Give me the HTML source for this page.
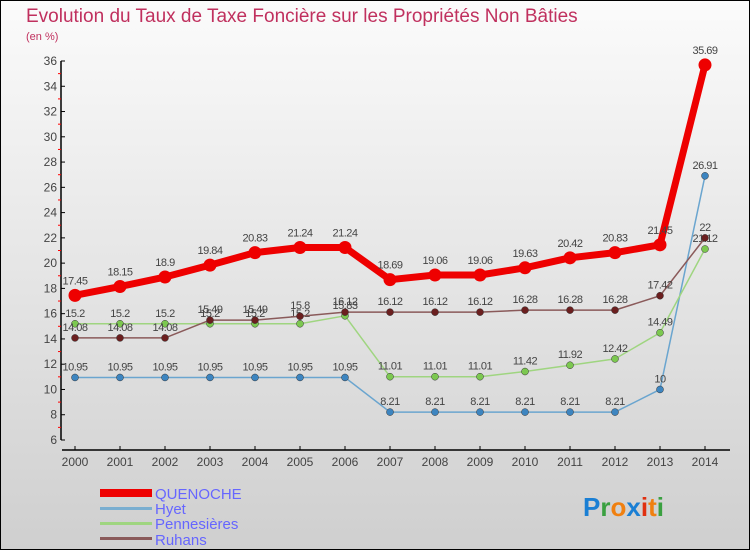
<!DOCTYPE html>
<html><head><meta charset="utf-8"><style>
body{margin:0}
svg text{font-family:"Liberation Sans",sans-serif}
</style></head><body>
<svg id="c" width="750" height="550" xmlns="http://www.w3.org/2000/svg">
<defs><linearGradient id="bg" x1="0" y1="0" x2="0" y2="1"><stop offset="0" stop-color="#fbfbfb"/><stop offset="1" stop-color="#cfcfcf"/></linearGradient></defs>
<rect x="0.5" y="0.5" width="749" height="549" fill="url(#bg)" stroke="#000"/>
<text x="26" y="22" font-size="19" fill="#c0305e">Evolution du Taux de Taxe Foncière sur les Propriétés Non Bâties</text>
<text x="26" y="40" font-size="11" fill="#c0305e">(en %)</text>
<g id="axes"></g><g id="series"></g>
<g>
<rect x="100" y="489" width="52" height="8" fill="#e00"/>
<text x="155" y="499" font-size="15" fill="#66f">QUENOCHE</text>
<rect x="100" y="507" width="52" height="3" fill="#7aaed0"/>
<text x="155" y="514" font-size="15" fill="#66f">Hyet</text>
<rect x="100" y="522" width="52" height="3" fill="#9fd580"/>
<text x="155" y="529" font-size="15" fill="#66f">Pennesières</text>
<rect x="100" y="537" width="52" height="3" fill="#8a5a5a"/>
<text x="155" y="545" font-size="15" fill="#66f">Ruhans</text>
</g>
<g font-size="26" font-weight="bold">
<text x="583" y="516"><tspan fill="#1a7fd4">P</tspan><tspan fill="#3aa040">r</tspan><tspan fill="#f08010">o</tspan><tspan fill="#1a7fd4">x</tspan><tspan fill="#e03010">i</tspan><tspan fill="#f08010">t</tspan><tspan fill="#3aa040">i</tspan></text>
</g>
</svg>
<script>
const years=[2000,2001,2002,2003,2004,2005,2006,2007,2008,2009,2010,2011,2012,2013,2014];
const quenoche=[17.45,18.15,18.9,19.84,20.83,21.24,21.24,18.69,19.06,19.06,19.63,20.42,20.83,21.45,35.69];
const hyet=[10.95,10.95,10.95,10.95,10.95,10.95,10.95,8.21,8.21,8.21,8.21,8.21,8.21,10,26.91];
const pennesieres=[15.2,15.2,15.2,15.2,15.2,15.2,15.83,11.01,11.01,11.01,11.42,11.92,12.42,14.49,21.12];
const ruhans=[14.08,14.08,14.08,15.49,15.49,15.8,16.12,16.12,16.12,16.12,16.28,16.28,16.28,17.42,22];
const yTicks=[6,8,10,12,14,16,18,20,22,24,26,28,30,32,34,36];
const NS="http://www.w3.org/2000/svg";
const x=i=>75+i*45;
const y=v=>440-(v-6)*(379/30);
function mk(t,a,p){const e=document.createElementNS(NS,t);for(const k in a)e.setAttribute(k,a[k]);p.appendChild(e);return e;}
const ax=document.getElementById('axes');
let l=mk('line',{x1:61,y1:y(36),x2:61,y2:y(6),stroke:'#000','stroke-width':1.5},ax);


l=mk('line',{x1:62,y1:450,x2:730,y2:450,stroke:'#000','stroke-width':1.5},ax);


yTicks.forEach(v=>{
  mk('line',{x1:61,y1:y(v),x2:65,y2:y(v),stroke:'#000'},ax);
  if(v<36)mk('line',{x1:58,y1:y(v+1),x2:61,y2:y(v+1),stroke:'#f00'},ax);
  const t=mk('text',{x:57,y:y(v)+4,'font-size':12,fill:'#444','text-anchor':'end'},ax);
  t.textContent=v;
  
  
});
years.forEach((yr,i)=>{
  mk('line',{x1:x(i),y1:446,x2:x(i),y2:450,stroke:'#000'},ax);
  const t=mk('text',{x:x(i),y:466,'font-size':12,fill:'#444','text-anchor':'middle'},ax);
  t.textContent=yr;
  
  
});
const sg=document.getElementById('series');
const S=[[hyet,'#6aa5cf','#3d85c0',1.5,3.5,'hyet'],[pennesieres,'#9fd580','#7cc850',1.5,3.5,'pennesieres'],[ruhans,'#8a5a5a','#6b1f1f',1.5,3.5,'ruhans'],[quenoche,'#e00','#e00',7,6.5,'quenoche']];
S.forEach(([d,c,mc,w,r,n])=>{
  const g=mk('g',{},sg);
  
  
  const p=mk('polyline',{points:d.map((v,i)=>x(i)+','+y(v)).join(' '),fill:'none',stroke:c,'stroke-width':w,'stroke-linejoin':'round'},g);
  
  
  d.forEach((v,i)=>{
    const m=mk('circle',{cx:x(i),cy:y(v),r:r,fill:mc,stroke:n=='quenoche'?'none':'#333','stroke-width':0.5},g);
    
    
    const t=mk('text',{x:x(i),y:y(v)-(n=='quenoche'?11:7),'font-size':11,fill:'#444','text-anchor':'middle','letter-spacing':'-0.5'},g);
    t.textContent=v;
    
    
  });
});
</script>
</body></html>
